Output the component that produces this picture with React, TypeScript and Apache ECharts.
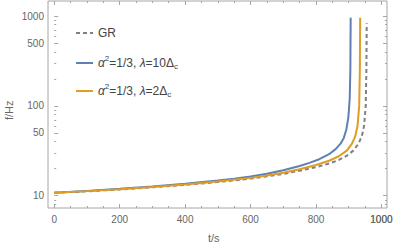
import React, { useEffect, useRef } from "react";
import * as echarts from "echarts";

// t/s values and f/Hz values
const grT = [0, 100, 200, 300, 400, 500, 600, 700, 750, 800, 840, 870, 895, 915, 930, 940, 947, 952, 954, 955];
const grF = [10.8, 11.2, 11.75, 12.4, 13.2, 14.2, 15.5, 17.5, 19, 20.8, 22.8, 25, 28, 32, 38, 46, 60, 100, 250, 830];

const blueT = [0, 100, 200, 300, 400, 500, 550, 600, 650, 700, 750, 780, 810, 840, 860, 875, 885, 893, 899, 903, 905, 906];
const blueF = [10.8, 11.3, 11.95, 12.7, 13.6, 14.8, 15.5, 16.4, 17.6, 19.2, 21.4, 23.2, 25.5, 29, 33, 38, 44, 55, 75, 120, 250, 960];

const orangeT = [0, 100, 200, 300, 400, 500, 600, 650, 700, 750, 800, 840, 870, 895, 910, 920, 927, 932, 934, 935];
const orangeF = [10.8, 11.25, 11.8, 12.5, 13.35, 14.4, 15.8, 16.8, 18.0, 19.7, 22, 24.5, 27.5, 32, 38, 46, 60, 100, 250, 960];

const xTicks = [0, 200, 400, 600, 800, 1000];
const xMinorTicks = [50, 100, 150, 250, 300, 350, 450, 500, 550, 650, 700, 750, 850, 900, 950];
const yTicks = [10, 50, 100, 500, 1000];
const yMinorTicks = [8, 9, 20, 30, 40, 60, 70, 80, 90, 200, 300, 400, 600, 700, 800, 900];

const names = ["GR", "blue", "orange"];
const labels: Record<string, string> = {
  GR: "GR",
  blue: "{i|α}{sup|2}=1/3, {i|λ}=10Δ{sub|c}",
  orange: "{i|α}{sup|2}=1/3, {i|λ}=2Δ{sub|c}",
};

const X_MIN = -19;
const X_MAX = 1017;
const Y_MIN = 7.3;
const Y_MAX = 1470;
const GRID_L = 48;
const GRID_R = 7;
const GRID_B = 41;
const GRID_W = 394 - GRID_L - GRID_R;

const frameColor = "#a6a6a6";
const labelColor = "#666666";
const font = "Liberation Sans";
const fmt = (v: number) => String(Math.round(v));

function xAxis(position: "bottom" | "top", ticks: number[], len: number, labelsOn: boolean) {
  return {
    type: "value",
    position,
    min: X_MIN,
    max: X_MAX,
    axisLine: { show: false },
    axisTick: { show: true, inside: true, length: len, customValues: ticks, lineStyle: { color: frameColor } },
    axisLabel: labelsOn
      ? {
          show: true,
          customValues: ticks,
          formatter: fmt,
          color: labelColor,
          fontFamily: font,
          fontSize: 10,
          margin: 6,
        }
      : { show: false },
    splitLine: { show: false },
  };
}

// right-hand frame ticks are drawn by left-positioned axes shifted onto the right edge
function yAxis(ticks: number[], len: number, labelsOn: boolean, rightEdge: boolean) {
  return {
    type: "log",
    logBase: 10,
    position: "left",
    offset: rightEdge ? -GRID_W : 0,
    min: Y_MIN,
    max: Y_MAX,
    axisLine: { show: false },
    axisTick: { show: true, inside: !rightEdge, length: len, customValues: ticks, lineStyle: { color: frameColor } },
    axisLabel: labelsOn
      ? {
          show: true,
          customValues: ticks,
          formatter: fmt,
          color: labelColor,
          fontFamily: font,
          fontSize: 10,
          margin: 4,
        }
      : { show: false },
    splitLine: { show: false },
  };
}

const richStyle = {
  i: { fontStyle: "italic", fontSize: 12, fontFamily: font, color: "#444" },
  sup: { fontSize: 8, fontFamily: font, color: "#444", padding: [0, 0, 10, 0] },
  sub: { fontSize: 8, fontFamily: font, color: "#444", padding: [7, 0, 0, 0] },
};

export default function App() {
  const ref = useRef<HTMLDivElement>(null);
  useEffect(() => {
    if (!ref.current) return;
    const chart = echarts.init(ref.current, undefined, { renderer: "svg" });
    const legendTops = [27, 54, 82];
    chart.setOption({
      animation: false,
      grid: {
        left: GRID_L,
        right: GRID_R,
        top: 1,
        bottom: GRID_B,
        outerBoundsMode: "none",
        show: true,
        borderColor: frameColor,
        borderWidth: 1,
        backgroundColor: "transparent",
      },
      xAxis: [
        xAxis("bottom", xTicks, 4, true),
        xAxis("bottom", xMinorTicks, 2, false),
        xAxis("top", xTicks, 4, false),
        xAxis("top", xMinorTicks, 2, false),
      ],
      yAxis: [
        yAxis(yTicks, 4, true, false),
        yAxis(yMinorTicks, 2, false, false),
        yAxis(yTicks, 4, false, true),
        yAxis(yMinorTicks, 2, false, true),
      ],
      legend: names.map((n, k) => ({
        data: [n],
        left: 75,
        top: legendTops[k],
        itemWidth: 17,
        itemHeight: 2,
        padding: 0,
        formatter: (name: string) => labels[name],
        textStyle: { fontFamily: font, fontSize: 12, color: "#444", rich: richStyle },
      })),
      graphic: [
        {
          type: "text",
          left: 208,
          top: 232,
          style: { text: "t/s", fontFamily: font, fontSize: 11, fill: labelColor },
        },
        {
          type: "text",
          x: 3,
          y: 120,
          rotation: Math.PI / 2,
          style: { text: "f/Hz", fontFamily: font, fontSize: 11, fill: labelColor },
        },
        {
          // the last x tick label, which the axis itself drops at the frame corner
          type: "text",
          x: GRID_L + ((1000 - X_MIN) / (X_MAX - X_MIN)) * GRID_W,
          y: 249 - GRID_B + 6,
          style: {
            text: "1000",
            fontFamily: font,
            fontSize: 10,
            fill: labelColor,
            align: "center",
            verticalAlign: "top",
          },
        },
      ],
      series: [
        {
          name: "GR",
          type: "line",
          showSymbol: false,
          symbol: "none",
          data: grT.map((t, k) => [t, grF[k]]),
          lineStyle: { color: "#808080", width: 2, type: [4, 3] },
          itemStyle: { color: "#808080" },
          z: 2,
        },
        {
          name: "blue",
          type: "line",
          showSymbol: false,
          symbol: "none",
          data: blueT.map((t, k) => [t, blueF[k]]),
          lineStyle: { color: "#5e81b5", width: 2 },
          itemStyle: { color: "#5e81b5" },
          z: 3,
        },
        {
          name: "orange",
          type: "line",
          showSymbol: false,
          symbol: "none",
          data: orangeT.map((t, k) => [t, orangeF[k]]),
          lineStyle: { color: "#e19c24", width: 2 },
          itemStyle: { color: "#e19c24" },
          z: 4,
        },
      ],
    });
    return () => chart.dispose();
  }, []);
  return <div ref={ref} style={{ width: 394, height: 249, position: "absolute", left: 0, top: 0 }} />;
}
